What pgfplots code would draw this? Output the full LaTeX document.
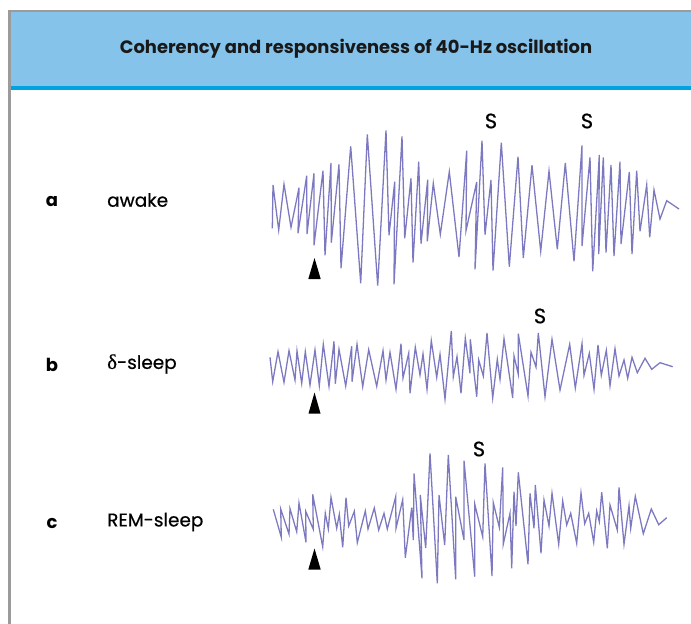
\documentclass[border=0pt]{standalone}
\usepackage{fontspec}
\setmainfont{Poppins}
\newfontfamily\greekfont{Liberation Serif}[FakeBold=0.6]
\newfontfamily\labfont{Poppins}[FakeBold=0.6]
\usepackage{pgfplots}
\pgfplotsset{compat=1.18}
\definecolor{hdr}{HTML}{85C3EB}
\definecolor{hdrline}{HTML}{00A3E0}
\definecolor{frame}{HTML}{9B9B9C}
\definecolor{trace}{HTML}{7C79C1}
\begin{document}
\begin{tikzpicture}
\begin{axis}[
  name=main,
  scale only axis, width=691bp, height=624bp,
  xmin=0, xmax=691, ymin=0, ymax=624, y dir=reverse,
  hide axis, clip=true,
]
% frame and header
\fill[hdr] (axis cs:9,11) rectangle (axis cs:691,86);
\fill[hdrline] (axis cs:9,86) rectangle (axis cs:691,90);
\fill[frame] (axis cs:8,10) rectangle (axis cs:691,12);
\fill[frame] (axis cs:8,10) rectangle (axis cs:10.5,624);
\node[font=\fontsize{18}{20}\selectfont\bfseries, text=black!90] at (axis cs:356,49) {Coherency and responsiveness of 40-Hz oscillation};
% row labels
\node[font=\fontsize{18}{20}\selectfont\bfseries] at (axis cs:52,201) {a};
\node[font=\fontsize{18}{20}\selectfont\bfseries] at (axis cs:52,365) {b};
\node[font=\fontsize{18}{20}\selectfont\bfseries] at (axis cs:52,523) {c};
\node[font=\fontsize{18.5}{20}\selectfont\labfont, anchor=west, inner sep=0pt] at (axis cs:107,200) {awake};
\node[font=\fontsize{18.5}{20}\selectfont\labfont, anchor=west, inner sep=0pt] at (axis cs:107,364) {{\greekfont\fontsize{21}{20}\selectfont δ}-sleep};
\node[font=\fontsize{18.5}{20}\selectfont\labfont, anchor=west, inner sep=0pt] at (axis cs:107,522) {REM-sleep};
% S markers
\node[font=\fontsize{21}{22}\selectfont\labfont] at (axis cs:491,121) {S};
\node[font=\fontsize{21}{22}\selectfont\labfont] at (axis cs:587,121) {S};
\node[font=\fontsize{21}{22}\selectfont\labfont] at (axis cs:540,316) {S};
\node[font=\fontsize{21}{22}\selectfont\labfont] at (axis cs:479,449) {S};
% traces
\addplot[trace, line width=1.3pt, line join=miter] coordinates {
(272.3,228.3)(273.0,185.0)(278.7,230.0)(284.0,184.3)(291.0,227.3)(299.0,187.7)(298.0,233.3)(306.7,175.7)(307.0,234.0)(314.0,173.3)(314.0,245.3)(323.0,170.7)(325.0,255.3)(331.0,163.0)(331.3,242.7)(339.0,164.3)(341.0,268.3)(350.7,146.3)(360.7,283.3)(367.3,134.3)(377.7,285.7)(386.0,130.3)(389.0,235.3)(394.7,181.7)(394.0,284.3)(402.0,136.3)(404.7,238.3)(411.0,178.3)(413.0,262.7)(418.7,161.7)(421.0,243.7)(427.7,179.7)(427.3,241.3)(433.3,183.3)(440.3,234.3)(449.3,171.7)(459.0,257.0)(466.7,150.7)(466.0,230.7)(476.7,182.0)(475.0,269.3)(482.0,140.7)(485.0,234.7)(491.0,180.0)(493.0,270.7)(501.3,142.7)(509.3,266.7)(518.0,156.7)(523.3,258.0)(532.0,165.3)(540.7,251.3)(549.0,171.0)(557.3,249.3)(565.3,163.0)(574.0,261.3)(582.0,145.3)(582.0,246.0)(590.0,157.3)(592.7,271.3)(599.3,155.0)(598.7,254.0)(603.3,157.3)(606.0,252.7)(611.0,165.0)(614.0,256.0)(620.0,161.7)(621.0,244.0)(629.3,172.0)(632.0,254.0)(636.7,170.7)(640.0,231.3)(646.7,185.0)(649.7,237.3)(654.0,190.0)(660.0,219.0)(666.7,200.7)(679.0,209.0)
};
\addplot[trace, line width=1.3pt, line join=miter] coordinates {
(270,357.3)(272.7,381.7)(278,351.7)(284,382.3)(289,350.7)(295,380)(297,351)(301.7,383.3)(305.3,351.7)(310,385)(315,350)(319.3,385.7)(323.3,344.3)(329,386.3)(334,341.3)(335.3,383.7)(339,349.3)(345.7,386)(351.7,346.3)(352,381.7)(357,344.3)(362.7,386.7)(368.7,349.7)(376.7,386.3)(383,350.7)(386,380)(390,352.3)(396,389.3)(401,343.7)(403,378)(408.7,353.3)(410,393.3)(415.3,347.3)(420,375)(423,354)(427,389.3)(431.3,340.7)(436.7,377.3)(440,354.3)(445,399)(451.3,331)(453.3,376.7)(457,356.7)(461,393.3)(465.3,338.3)(470,373.3)(470.3,339.3)(476.7,396.7)(478.7,360)(483.3,376)(487,333)(492.7,398)(497.3,359.3)(500,379.3)(504,338.7)(512.7,398)(514,356)(518.3,374.3)(518.3,333.7)(528,396)(531,352.3)(536,367)(538.3,333)(545,396.7)(552,339.3)(560,390)(569.7,344.3)(575.3,388)(582,343.7)(584,375.3)(589.3,353.3)(594,389.3)(598,345)(601.3,375.3)(606.3,350.3)(610,385.7)(615,348.7)(619,376)(624,360)(627.7,378.3)(632,357.3)(637.3,372.7)(645,358.3)(651.7,369.3)(660,362.7)(672.7,366.7)
};
\addplot[trace, line width=1.3pt, line join=miter] coordinates {
(273.3,509.3)(281.3,537.3)(280.7,509)(289,534)(290,508.7)(296.7,531.7)(299,503)(306,542.3)(305.7,511.3)(313.3,529.3)(312.7,494.3)(322.7,546.7)(325.3,513.3)(328.3,529)(331,497.3)(336.7,528.3)(339.3,514.3)(342.7,547.3)(346,497.7)(348.7,526)(354.3,511.3)(357.3,542.7)(365.3,511)(368,529)(374.3,508)(378.7,530)(384,513.3)(387.3,529)(395.7,496.7)(396,528.3)(402.7,499.7)(405.3,557.7)(411.7,507.7)(413.3,540)(414,473.3)(422,578.3)(420.3,495)(425.7,548)(430,453.3)(437.3,583.3)(439,495)(444.7,545)(448.3,455)(455.7,579.3)(455.7,496.7)(464,540)(464,460.7)(474.7,576.7)(474.7,504)(482.7,536.7)(485,463.3)(492,576)(493.3,502.7)(499.3,527.3)(502.7,467.3)(503.3,544)(510,513.3)(511.7,568.3)(514,491.7)(516,526)(518.3,472.3)(528,564.3)(530,493.3)(534,528.3)(535.3,485)(541,553.3)(544,500)(549,526)(552,493.3)(558.7,544.3)(562.7,501)(566.7,525)(570.7,513.3)(576.7,543.3)(581,493)(584.7,523.7)(588.7,513.3)(593.7,542.3)(596.7,511)(599.3,521.7)(601.7,492.3)(607.3,548.3)(610,505)(617.3,530)(619,487.3)(624,544.3)(629,505.7)(630.7,528.3)(635.3,496.3)(643.3,533.7)(651.3,509)(658.7,524.7)(666.7,517.7)
};
% stimulus arrowheads
\addplot[fill=black, draw=none] coordinates {(308.3,279)(314.5,258)(320.7,279)} --cycle;
\addplot[fill=black, draw=none] coordinates {(308.5,413.5)(314.5,392.5)(320.5,413.5)} --cycle;
\addplot[fill=black, draw=none] coordinates {(308.3,569.5)(314.5,548.5)(320.7,569.5)} --cycle;
\end{axis}
\path (main.south west) rectangle (main.north east);
\end{tikzpicture}
\end{document}
